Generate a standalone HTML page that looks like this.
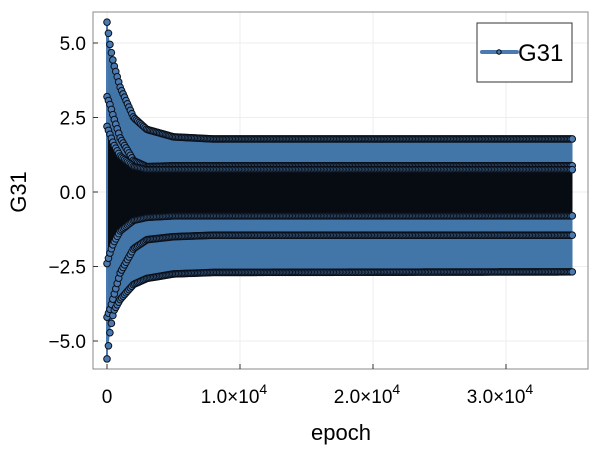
<!DOCTYPE html>
<html><head><meta charset="utf-8"><style>
body{margin:0;background:#fff}
svg{display:block;font-family:"Liberation Sans",sans-serif}
</style></head><body>
<svg id="chart" width="600" height="450" viewBox="0 0 600 450" xmlns="http://www.w3.org/2000/svg">
<g id="grid"></g>
<g id="plot"></g>
<rect x="93" y="12" width="495" height="357" fill="none" stroke="#888" stroke-width="1"/>
<g id="axes"></g>
<text transform="translate(26,192) rotate(-90)" text-anchor="middle" font-size="22">G31</text>
<text x="341" y="440" text-anchor="middle" font-size="22">epoch</text>
<g>
<rect x="477" y="23" width="95" height="59" fill="#fff" stroke="#333" stroke-width="1"/>
<line x1="482" y1="52" x2="517" y2="52" stroke="#4a7ab0" stroke-width="4" stroke-linecap="round"/>
<circle cx="499" cy="52" r="2.2" fill="#4a7ab0" stroke="#000" stroke-width="1"/>
<text x="518" y="61" font-size="24">G31</text>
</g>
</svg>
<script>
const xTicks=[0,10000,20000,30000];
const xTickLabels=["0","1.0×10","2.0×10","3.0×10"];
const yTicks=[5,2.5,0,-2.5,-5];
const yTickLabels=["5.0","2.5","0.0","−2.5","−5.0"];
const epochs=[0,250,500,1000,2000,3000,5000,8000,35000];
const topTrack=[5.7,4.85,4.3,3.5,2.5,2.1,1.85,1.78,1.78];
const upperTrack=[3.2,2.9,2.5,1.8,1.05,0.85,0.88,0.88,0.88];
const midTop=[2.2,1.9,1.6,1.2,0.85,0.75,0.75,0.75,0.75];
const midBottom=[-2.4,-2.0,-1.7,-1.3,-0.95,-0.85,-0.8,-0.8,-0.8];
const lowerTrack=[-4.2,-3.9,-3.5,-2.7,-1.9,-1.6,-1.5,-1.45,-1.45];
const bottomTrack=[-5.6,-4.6,-4.0,-3.6,-3.1,-2.9,-2.75,-2.7,-2.68];
const X=v=>107+v*133/10000, Y=v=>192-v*29.8;
const NS="http://www.w3.org/2000/svg";
function mk(t,a,p){const e=document.createElementNS(NS,t);for(const k in a)e.setAttribute(k,a[k]);p.appendChild(e);return e;}
function interp(tr,x){for(let i=1;i<epochs.length;i++){if(x<=epochs[i]){const f=(x-epochs[i-1])/(epochs[i]-epochs[i-1]);return tr[i-1]+f*(tr[i]-tr[i-1]);}}return tr[tr.length-1];}
const grid=document.getElementById('grid'),axes=document.getElementById('axes'),plot=document.getElementById('plot');
xTicks.forEach((t,i)=>{
 const g=mk('line',{x1:X(t),x2:X(t),y1:12,y2:369,stroke:'#eee'},grid);
 
 const tk=mk('line',{x1:X(t),x2:X(t),y1:369,y2:364,stroke:'#333'},axes);
 
 const tx=mk('text',{x:X(t),y:403,'text-anchor':'middle','font-size':19},axes);
 
 if(i===0){tx.textContent=xTickLabels[i];}else{tx.setAttribute('x',X(t)-6);tx.textContent=xTickLabels[i];const s=mk('tspan',{dy:-9,'font-size':14},tx);s.textContent='4';}
});
yTicks.forEach((t,i)=>{
 const g=mk('line',{x1:93,x2:588,y1:Y(t),y2:Y(t),stroke:'#eee'},grid);
 
 const tk=mk('line',{x1:93,x2:98,y1:Y(t),y2:Y(t),stroke:'#333'},axes);
 
 const tx=mk('text',{x:86,y:Y(t)+7,'text-anchor':'end','font-size':19},axes);
 
 tx.textContent=yTickLabels[i];
});
function band(a,b,fill,name){
 let pts=[];for(let x=0;x<=35000;x+=100)pts.push(X(x)+','+Y(interp(a,x)));
 for(let x=35000;x>=0;x-=100)pts.push(X(x)+','+Y(interp(b,x)));
 const p=mk('polygon',{points:pts.join(' '),fill:fill},plot);
 
}
band(topTrack,bottomTrack,'#4275a8','series-envelope');
band(midTop,midBottom,'#070b12','series-dense-core');
const sp=mk('line',{x1:X(0),x2:X(0),y1:Y(topTrack[0]),y2:Y(bottomTrack[0]),stroke:'#4a7ab0','stroke-width':2},plot);

[topTrack,upperTrack,midTop,midBottom,lowerTrack,bottomTrack].forEach(tr=>{
 for(let x=0;x<=35000;x+=110){
  const c=mk('circle',{cx:X(x),cy:Y(interp(tr,x)),r:3.3,fill:'#4a7ab0',stroke:'#0a0f18','stroke-width':1},plot);
  
 }
});
</script>
</body></html>
